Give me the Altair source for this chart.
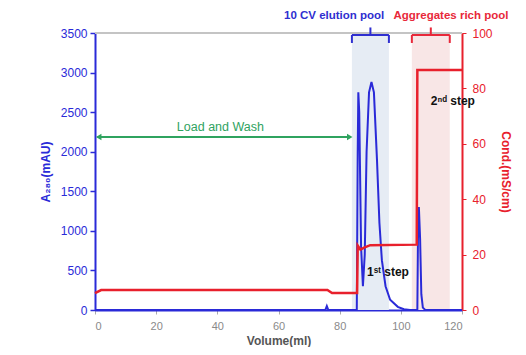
import altair as alt
import pandas as pd

# ---- data ----
a280_vol = [0, 75.3, 75.8, 76.3, 85.6, 85.9, 86.1, 86.4, 87.0, 87.6, 88.2, 88.8, 89.6, 90.4, 91.2,
            92.2, 93.0, 93.8, 95.0, 96.5, 99.0, 101.0, 103.0, 105.4, 105.6, 105.9, 106.3, 106.7,
            107.2, 108.0, 120]
a280_val = [0, 0, 50, 0, 0, 2000, 2750, 2500, 800, 300, 700, 2000, 2750, 2880, 2750,
            1900, 1100, 630, 300, 130, 40, 10, 0, 0, 900, 1300, 900, 200,
            30, 0, 0]

cond_vol = [0, 2.0, 76.0, 77.5, 85.7, 85.9, 86.8, 88.0, 90.0, 105.2, 105.4, 120]
cond_val = [6.1, 7.2, 7.2, 6.1, 6.1, 23.3, 21.8, 22.5, 23.4, 23.6, 86.6, 86.6]

band_start = [84.0, 103.6]
band_end = [96.1, 116.0]
band_color = ["#e6ecf4", "#f8e6e6"]
band_label = ["10 CV elution pool", "Aggregates rich pool"]
label_x = [78.2, 116.4]
label_color = ["#2f2fd0", "#e8283a"]

BLUE = "#2a2ad8"
RED = "#e8202c"
GREEN = "#2fa35f"

x_ticks = [0, 20, 40, 60, 80, 100, 120]
left_ticks = [0, 500, 1000, 1500, 2000, 2500, 3000, 3500]
right_ticks = [0, 20, 40, 60, 80, 100]

FONT = "Liberation Sans"

x_axis = alt.Axis(values=x_ticks, title="Volume(ml)", titleColor="#555555", titleFontSize=12,
                  titleFont=FONT, titleFontWeight="bold", labelColor="#8a8a8a", labelFontSize=11,
                  labelFont=FONT, domainColor=BLUE, domainWidth=2, tickColor="#aaaaaa", tickSize=4,
                  grid=False, titlePadding=4, labelPadding=6, format="d")
left_axis = alt.Axis(values=left_ticks, title="A₂₈₀(mAU)", titleColor=BLUE, titleFontSize=12,
                     titleFont=FONT, titleFontWeight="bold", labelColor=BLUE, labelFontSize=12,
                     labelFont=FONT, domainColor=BLUE, domainWidth=2, tickColor=BLUE, tickSize=5,
                     tickWidth=1.5, grid=False, titlePadding=8, labelPadding=3, format="d")
right_axis = alt.Axis(values=right_ticks, orient="right", title="Cond.(mS/cm)", titleColor=RED,
                      titleFontSize=12, titleFont=FONT, titleFontWeight="bold", titleAngle=90,
                      labelColor=RED, labelFontSize=12, labelFont=FONT, domainColor=RED,
                      domainWidth=2, tickColor=RED, tickSize=4, grid=False, titlePadding=6,
                      labelPadding=6, format="d")

xs = alt.Scale(domain=[0, 120], nice=False, zero=False)
ys = alt.Scale(domain=[0, 3500], nice=False)
rs = alt.Scale(domain=[0, 100], nice=False)


def X(f):
    return alt.X(f, type="quantitative", scale=xs, axis=x_axis)


def Y(f):
    return alt.Y(f, type="quantitative", scale=ys, axis=left_axis)


a280 = pd.DataFrame({"v": a280_vol, "a": a280_val})
cond = pd.DataFrame({"v": cond_vol, "c": cond_val})
bands = pd.DataFrame({"s": band_start, "e": band_end, "col": band_color, "y0": [0, 0],
                      "y1": [3500, 3500]})

band_layer = alt.Chart(bands).mark_rect().encode(
    x=X("s"), x2="e", y=Y("y0"), y2="y1", color=alt.Color("col:N", scale=None))

top_line = alt.Chart(pd.DataFrame({"x0": [0], "x1": [120], "y": [3500]})).mark_rule(
    color="#c4c4c4", strokeWidth=2).encode(x=X("x0"), x2="x1", y=Y("y"))

# brackets
br_rows = []
for s, e, c in zip(band_start, band_end, label_color):
    m = (s + e) / 2
    br_rows += [
        {"x0": s, "x1": e, "y0": 3475, "y1": 3475, "c": c},
        {"x0": s, "x1": s, "y0": 3374, "y1": 3475, "c": c},
        {"x0": e, "x1": e, "y0": 3374, "y1": 3475, "c": c},
        {"x0": m, "x1": m, "y0": 3475, "y1": 3570, "c": c},
    ]
brackets = alt.Chart(pd.DataFrame(br_rows)).mark_rule(strokeWidth=2).encode(
    x=X("x0"), x2="x1", y=Y("y0"), y2="y1", color=alt.Color("c:N", scale=None))

pool_labels = alt.Chart(pd.DataFrame({"x": label_x, "y": [3715, 3715], "t": band_label,
                                      "c": label_color})).mark_text(
    font=FONT, fontSize=11.5, fontWeight="bold", align="center", baseline="middle").encode(
    x=X("x"), y=Y("y"), text="t:N", color=alt.Color("c:N", scale=None))

arrow = alt.Chart(pd.DataFrame({"x0": [0.8], "x1": [83.5], "y": [2186]})).mark_rule(
    color=GREEN, strokeWidth=2).encode(x=X("x0"), x2="x1", y=Y("y"))
heads = alt.Chart(pd.DataFrame({"x": [1.2, 83.3], "y": [2186, 2186],
                                "sh": ["triangle-left", "triangle-right"]})).mark_point(
    filled=True, color=GREEN, size=40, opacity=1).encode(
    x=X("x"), y=Y("y"), shape=alt.Shape("sh:N", scale=None))
lw_text = alt.Chart(pd.DataFrame({"x": [41], "y": [2310], "t": ["Load and Wash"]})).mark_text(
    font=FONT, fontSize=12.5, color=GREEN).encode(x=X("x"), y=Y("y"), text="t:N")

step_text = alt.Chart(pd.DataFrame({"x": [95.8, 117.0], "y": [480, 2640],
                                    "t": ["1ˢᵗ step", "2ⁿᵈ step"]})).mark_text(
    font=FONT, fontSize=12, fontWeight="bold", color="#111111").encode(
    x=X("x"), y=Y("y"), text="t:N")

blue_line = alt.Chart(a280).mark_line(color=BLUE, strokeWidth=2).encode(x=X("v"), y=Y("a"))

left_group = alt.layer(band_layer, top_line, blue_line, arrow, heads, lw_text, brackets,
                       pool_labels, step_text)

red_line = alt.Chart(cond).mark_line(color=RED, strokeWidth=2.5).encode(
    x=X("v"), y=alt.Y("c", type="quantitative", scale=rs, axis=right_axis))

chart = alt.layer(left_group, red_line).resolve_scale(y="independent").properties(
    width=367, height=277,
    autosize=alt.AutoSizeParams(type="none"),
    padding={"left": 87, "top": 25, "right": 56, "bottom": 37},
).configure_view(stroke=None).configure(background="white")

chart.save("out.html", embed_options={"renderer": "svg", "actions": False})
